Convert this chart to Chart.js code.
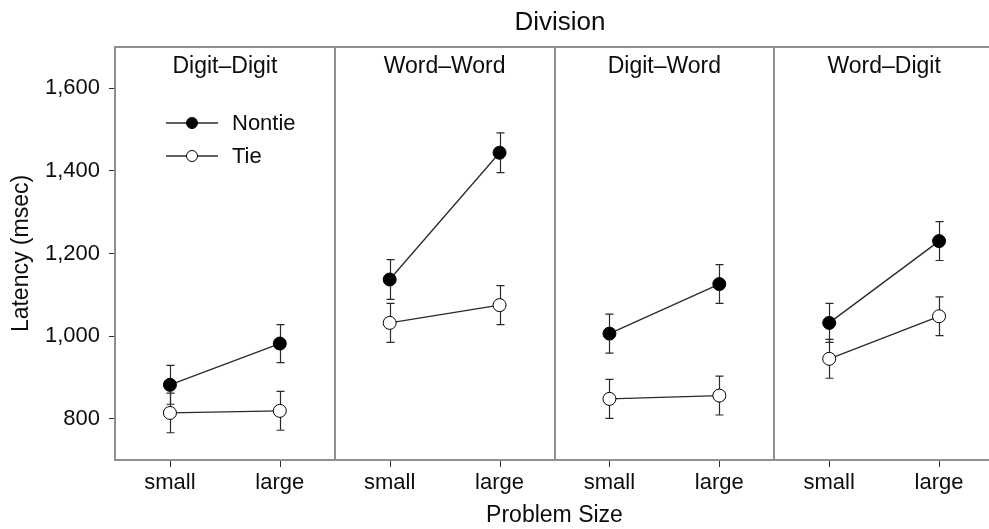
<!DOCTYPE html>
<html>
<head>
<meta charset="utf-8">
<script src="https://cdn.jsdelivr.net/npm/chart.js@4.4.0/dist/chart.umd.min.js"></script>
<style>
  html, body { margin: 0; padding: 0; background: #fff; overflow: hidden; }
  #wrap { position: absolute; left: 0; top: 0; width: 989px; height: 529px; }
</style>
</head>
<body>
<div id="wrap"><canvas id="c" width="989" height="529"></canvas></div>
<script>
const categories = ['small', 'large', 'small', 'large', 'small', 'large', 'small', 'large'];
const panelTitles = ['Digit\u2013Digit', 'Word\u2013Word', 'Digit\u2013Word', 'Word\u2013Digit'];
const nontie = [882, 982, 1137, 1444, 1006, 1126, 1032, 1230];
const nontieErr = [47, 46, 48, 48, 47, 47, 47, 47];
const tie = [814, 819, 1032, 1075, 848, 856, 945, 1048];
const tieErr = [48, 47, 47, 47, 47, 47, 47, 47];
const yTicks = [800, 1000, 1200, 1400, 1600];
const topTitle = 'Division';
const xTitle = 'Problem Size';
const yTitle = 'Latency (msec)';

const FONT = 'Liberation Sans, Arial, Helvetica, sans-serif';
const FRAME = '#8f8f8f';
const INK = '#2a2a2a';
const TXT = '#0d0d0d';
const PLOT_RIGHT = 994; // frame runs past the right edge of the picture

const errMap = { 0: nontieErr, 1: tieErr };

const extras = {
  id: 'extras',
  afterLayout(chart) {
    try {
      const xs = chart.scales.x;
      xs.right = PLOT_RIGHT;
      xs.width = PLOT_RIGHT - xs.left;
      xs.configure();
      chart.chartArea.right = PLOT_RIGHT;
      chart.chartArea.width = PLOT_RIGHT - chart.chartArea.left;
    } catch (e) { /* keep default layout */ }
  },
  beforeDatasetsDraw(chart) {
    const ctx = chart.ctx;
    const y = chart.scales.y;
    ctx.save();
    ctx.strokeStyle = INK;
    ctx.lineWidth = 1.2;
    chart.data.datasets.forEach((ds, di) => {
      const meta = chart.getDatasetMeta(di);
      const errs = errMap[di];
      meta.data.forEach((pt, i) => {
        const v = ds.data[i];
        const e = errs[i];
        const x = Math.round(pt.x) + 0.5;
        const yt = y.getPixelForValue(v + e);
        const yb = y.getPixelForValue(v - e);
        ctx.beginPath();
        ctx.moveTo(x, yt); ctx.lineTo(x, yb);
        ctx.moveTo(x - 4, yt); ctx.lineTo(x + 4, yt);
        ctx.moveTo(x - 4, yb); ctx.lineTo(x + 4, yb);
        ctx.stroke();
      });
    });
    ctx.restore();
  },
  afterDraw(chart) {
    const ctx = chart.ctx;
    const a = chart.chartArea;
    const xs = chart.scales.x;
    ctx.save();
    ctx.strokeStyle = FRAME;
    ctx.lineWidth = 2;
    ctx.beginPath();
    ctx.moveTo(a.left - 1, a.top);
    ctx.lineTo(a.right + 1, a.top);
    ctx.stroke();
    ctx.strokeStyle = INK;
    ctx.lineWidth = 1;
    categories.forEach((c, i) => {
      const px = Math.round(xs.getPixelForValue(i)) + 0.5;
      ctx.beginPath();
      ctx.moveTo(px, a.bottom + 1);
      ctx.lineTo(px, a.bottom + 7);
      ctx.stroke();
    });
    ctx.fillStyle = TXT;
    ctx.textAlign = 'center';
    ctx.textBaseline = 'middle';
    ctx.font = '26px ' + FONT;
    ctx.fillText(topTitle, 560, 23);
    ctx.font = '23px ' + FONT;
    panelTitles.forEach((t, p) => {
      const l = xs.getPixelForValue(p * 2);
      const r = xs.getPixelForValue(p * 2 + 1);
      ctx.fillText(t, (l + r) / 2, 67);
    });
    const items = [
      { label: chart.data.datasets[0].label, fill: '#000', y: 123 },
      { label: chart.data.datasets[1].label, fill: '#fff', y: 156 }
    ];
    ctx.font = '22px ' + FONT;
    items.forEach(it => {
      ctx.strokeStyle = INK;
      ctx.lineWidth = 1.3;
      ctx.beginPath();
      ctx.moveTo(166, it.y); ctx.lineTo(218, it.y);
      ctx.stroke();
      ctx.beginPath();
      ctx.arc(192, it.y, 5.5, 0, Math.PI * 2);
      ctx.fillStyle = it.fill;
      ctx.fill();
      ctx.strokeStyle = '#000';
      ctx.lineWidth = 1;
      ctx.stroke();
      ctx.fillStyle = TXT;
      ctx.textAlign = 'left';
      ctx.fillText(it.label, 232, it.y + 1);
    });
    ctx.restore();
  }
};

const segStyle = {
  borderColor: c => (c.p0DataIndex % 2 === 1 ? 'rgba(0,0,0,0)' : INK)
};

new Chart(document.getElementById('c'), {
  type: 'line',
  data: {
    labels: categories,
    datasets: [
      { label: 'Nontie', data: nontie, borderColor: INK, borderWidth: 1.3, pointBackgroundColor: '#000', pointBorderColor: '#000', pointBorderWidth: 1, pointRadius: 6.5, segment: segStyle, tension: 0 },
      { label: 'Tie', data: tie, borderColor: INK, borderWidth: 1.3, pointBackgroundColor: '#fff', pointBorderColor: '#000', pointBorderWidth: 1, pointRadius: 6.5, segment: segStyle, tension: 0 }
    ]
  },
  options: {
    responsive: false,
    animation: false,
    events: [],
    layout: { autoPadding: false, padding: { top: 47, right: 0, left: 0, bottom: 0 } },
    plugins: { legend: { display: false }, tooltip: { enabled: false }, title: { display: false } },
    scales: {
      x: {
        type: 'category',
        offset: true,
        grid: {
          offset: true, drawTicks: false, drawOnChartArea: true,
          color: c => (c.index % 2 === 0 && c.index > 0 && c.index < 8 ? FRAME : 'rgba(0,0,0,0)'),
          lineWidth: 2
        },
        border: { display: true, color: FRAME, width: 2 },
        ticks: { color: TXT, font: { family: FONT, size: 22 }, padding: 10, maxRotation: 0, autoSkip: false },
        title: { display: true, text: xTitle, color: TXT, font: { family: FONT, size: 23 }, padding: { top: 10, bottom: 0 } },
        afterFit: s => { s.height = 69; s.paddingLeft = 0; s.paddingRight = 0; }
      },
      y: {
        min: 700, max: 1700,
        afterBuildTicks: s => { s.ticks = yTicks.map(v => ({ value: v })); },
        grid: { drawOnChartArea: false, drawTicks: true, tickLength: 6, color: INK, lineWidth: 1 },
        border: { display: true, color: FRAME, width: 2 },
        ticks: { color: TXT, font: { family: FONT, size: 22 }, padding: 9, callback: v => Number(v).toLocaleString('en-US') },
        title: { display: true, text: yTitle, color: TXT, font: { family: FONT, size: 23 }, padding: { top: 8, bottom: 0 } },
        afterFit: s => { s.width = 115; }
      }
    }
  },
  plugins: [extras]
});
</script>
</body>
</html>
